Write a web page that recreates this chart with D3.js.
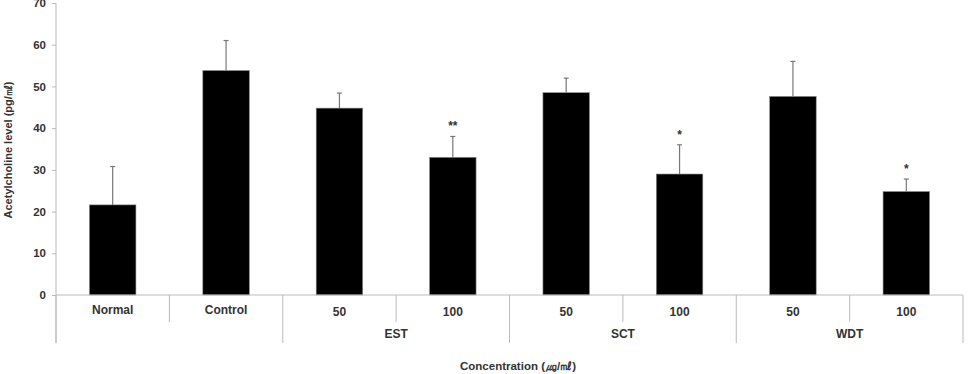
<!DOCTYPE html>
<html>
<head>
<meta charset="utf-8">
<script src="https://cdn.jsdelivr.net/npm/d3@7"></script>
<style>
  body { margin: 0; background: #fff; }
  text { font-family: "Liberation Sans", Arial, sans-serif; font-weight: bold; fill: #333; }
</style>
</head>
<body>
<div id="chart"></div>
<script>
const categories = ["Normal", "Control", "EST 50", "EST 100", "SCT 50", "SCT 100", "WDT 50", "WDT 100"];
const levelOne = ["Normal", "Control", "50", "100", "50", "100", "50", "100"];
const groups = [
  { name: "EST", from: 2, to: 3 },
  { name: "SCT", from: 4, to: 5 },
  { name: "WDT", from: 6, to: 7 }
];
const means = [21.6, 53.8, 44.8, 33.0, 48.5, 29.0, 47.6, 24.8];
const errors = [9.2, 7.2, 3.6, 5.0, 3.5, 7.0, 8.4, 3.0];
const marks = ["", "", "", "**", "", "*", "", "*"];
const yTicks = [0, 10, 20, 30, 40, 50, 60, 70];

const width = 977, height = 374;
const margin = { left: 56, right: 14, top: 3, bottom: 79 };

const svg = d3.select("#chart").append("svg")
  .attr("width", width)
  .attr("height", height);

const x = d3.scaleBand()
  .domain(categories)
  .range([margin.left, width - margin.right])
  .padding(0);

const y = d3.scaleLinear()
  .domain([0, 70])
  .range([height - margin.bottom, margin.top]);

const barW = x.bandwidth() * 0.41;
const y0 = y(0);
const axisBottom = 343;
const innerBottom = 322;

// y axis
const yAxis = svg.append("g")
  .attr("transform", `translate(${margin.left},0)`)
  .call(d3.axisLeft(y).tickValues(yTicks).tickSize(4).tickPadding(6));
yAxis.select(".domain").remove();
yAxis.selectAll(".tick line").attr("stroke", "#bbb");
yAxis.selectAll(".tick text").style("font-size", "11.5px").style("font-family", "Liberation Sans, Arial, sans-serif").style("font-weight", "bold").attr("fill", "#333");

svg.append("line")
  .attr("x1", margin.left).attr("x2", margin.left)
  .attr("y1", y(70)).attr("y2", axisBottom)
  .attr("stroke", "#bbb");

svg.append("text")
  .attr("transform", `translate(12,${(y(70) + y0) / 2 + 1}) rotate(-90)`)
  .attr("text-anchor", "middle")
  .style("font-size", "11px")
  .text("Acetylcholine level (pg/㎖)");

// bars
svg.append("g")
  .selectAll("rect")
  .data(categories)
  .join("rect")
  .attr("x", d => x(d) + x.bandwidth() / 2 - barW / 2)
  .attr("y", (d, i) => y(means[i]))
  .attr("width", barW)
  .attr("height", (d, i) => y0 - y(means[i]))
  .attr("fill", "#000")
  .attr("stroke", "#888")
  .attr("stroke-width", 0.6);

// error bars
const eb = svg.append("g").attr("stroke", "#777").attr("stroke-width", 1.2);
categories.forEach((d, i) => {
  const cx = x(d) + x.bandwidth() / 2;
  eb.append("line")
    .attr("x1", cx).attr("x2", cx)
    .attr("y1", y(means[i])).attr("y2", y(means[i] + errors[i]));
  eb.append("line")
    .attr("x1", cx - 2.5).attr("x2", cx + 2.5)
    .attr("y1", y(means[i] + errors[i])).attr("y2", y(means[i] + errors[i]));
});

// significance marks
svg.append("g")
  .selectAll("text")
  .data(categories)
  .join("text")
  .attr("x", d => x(d) + x.bandwidth() / 2)
  .attr("y", (d, i) => y(means[i] + errors[i]) - 6)
  .attr("text-anchor", "middle")
  .style("font-size", "12px")
  .text((d, i) => marks[i]);

// category axis
svg.append("line")
  .attr("x1", margin.left).attr("x2", width - margin.right)
  .attr("y1", y0).attr("y2", y0)
  .attr("stroke", "#bbb");

const groupEdges = new Set([0, 2, 4, 6, 8]);
const edges = d3.range(categories.length + 1);
svg.append("g")
  .selectAll("line")
  .data(edges)
  .join("line")
  .attr("x1", i => i < categories.length ? x(categories[i]) : x.range()[1])
  .attr("x2", i => i < categories.length ? x(categories[i]) : x.range()[1])
  .attr("y1", y0)
  .attr("y2", i => groupEdges.has(i) ? axisBottom : innerBottom)
  .attr("stroke", "#bbb");

svg.append("g")
  .selectAll("text")
  .data(categories)
  .join("text")
  .attr("x", d => x(d) + x.bandwidth() / 2)
  .attr("y", (d, i) => i < 2 ? 314 : 316)
  .attr("text-anchor", "middle")
  .style("font-size", "12px")
  .text((d, i) => levelOne[i]);

svg.append("g")
  .selectAll("text")
  .data(groups)
  .join("text")
  .attr("x", g => (x(categories[g.from]) + x(categories[g.to]) + x.bandwidth()) / 2)
  .attr("y", 338)
  .attr("text-anchor", "middle")
  .style("font-size", "12px")
  .text(g => g.name);

svg.append("text")
  .attr("x", 518)
  .attr("y", 370)
  .attr("text-anchor", "middle")
  .style("font-size", "11.5px")
  .text("Concentration (㎍/㎖)");
</script>
</body>
</html>
